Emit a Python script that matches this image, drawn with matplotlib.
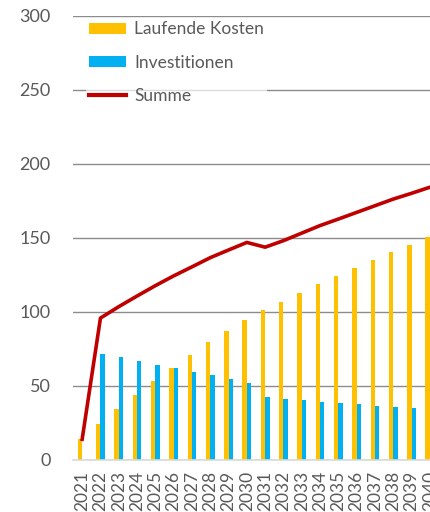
import matplotlib.pyplot as plt
import numpy as np
from matplotlib.patches import Patch
from matplotlib.lines import Line2D

plt.rcParams['font.family'] = ['Lato', 'DejaVu Sans']

# Jahre und Kosten (Mio.)
jahre = [str(j) for j in range(2021, 2041)]
laufende_kosten = [14, 24.3, 34.2, 43.9, 53.4, 62.4, 71.0, 79.5, 87.2, 94.8,
                   101.4, 107.0, 113.0, 119.0, 124.3, 129.7, 135.1, 140.5, 145.3, 150.5]
investitionen = [0, 71.6, 69.4, 66.9, 64.4, 62.0, 59.5, 57.2, 54.7, 52.2,
                 42.4, 41.2, 40.3, 39.4, 38.5, 37.6, 36.7, 35.8, 34.9, 33.8]
summe = [14, 95.9, 103.6, 110.8, 117.8, 124.4, 130.5, 136.7, 141.9, 147.0,
         143.8, 148.2, 153.3, 158.4, 162.8, 167.3, 171.8, 176.3, 180.2, 184.3]

GELB = '#FFC000'
BLAU = '#00B0F0'
ROT = '#C00000'
GRAU = '#595959'

fig = plt.figure(figsize=(4.3, 5.12), dpi=100)
# Diagramm läuft rechts über den Bildrand hinaus
ax = fig.add_axes([73 / 430, 52 / 512, 20 * 18.3 / 430, 444 / 512])

x = np.arange(len(jahre))
w = 0.24
ax.bar(x - w / 2, laufende_kosten, width=w, color=GELB, zorder=2)
ax.bar(x + w / 2, investitionen, width=w, color=BLAU, zorder=2)
ax.plot(x, summe, color=ROT, linewidth=2.6, solid_joinstyle='round', zorder=3)

ax.set_xlim(-0.5, len(jahre) - 0.5)
ax.set_ylim(0, 300)
ax.set_yticks(range(0, 301, 50))
ax.set_xticks(x)
ax.set_xticklabels(jahre, rotation=90)
ax.tick_params(axis='y', length=0, pad=16, labelsize=13, labelcolor=GRAU)
ax.tick_params(axis='x', length=0, pad=8, labelsize=12.5, labelcolor=GRAU)
ax.yaxis.grid(True, color='#8C8C8C', linewidth=1.0, zorder=0)
ax.set_axisbelow(True)
for s in ['left', 'right', 'top']:
    ax.spines[s].set_visible(False)
ax.spines['bottom'].set_color('#D9D9D9')
ax.spines['bottom'].set_linewidth(1.2)

handles = [Patch(facecolor=GELB, edgecolor='none'),
           Patch(facecolor=BLAU, edgecolor='none'),
           Line2D([], [], color=ROT, linewidth=3)]
labels = ['Laufende Kosten', 'Investitionen', 'Summe']
leg = fig.legend(handles, labels, loc='upper left', bbox_to_anchor=(86 / 430, 1 - 18 / 512),
                 frameon=True, fontsize=12.5, labelcolor=GRAU, handlelength=2.1,
                 handleheight=0.57, labelspacing=1.0, handletextpad=0.46,
                 borderpad=0.2, borderaxespad=0)
leg.get_frame().set_facecolor('white')
leg.get_frame().set_alpha(0.7)
leg.get_frame().set_edgecolor('none')

fig.savefig('out.png', dpi=100)
